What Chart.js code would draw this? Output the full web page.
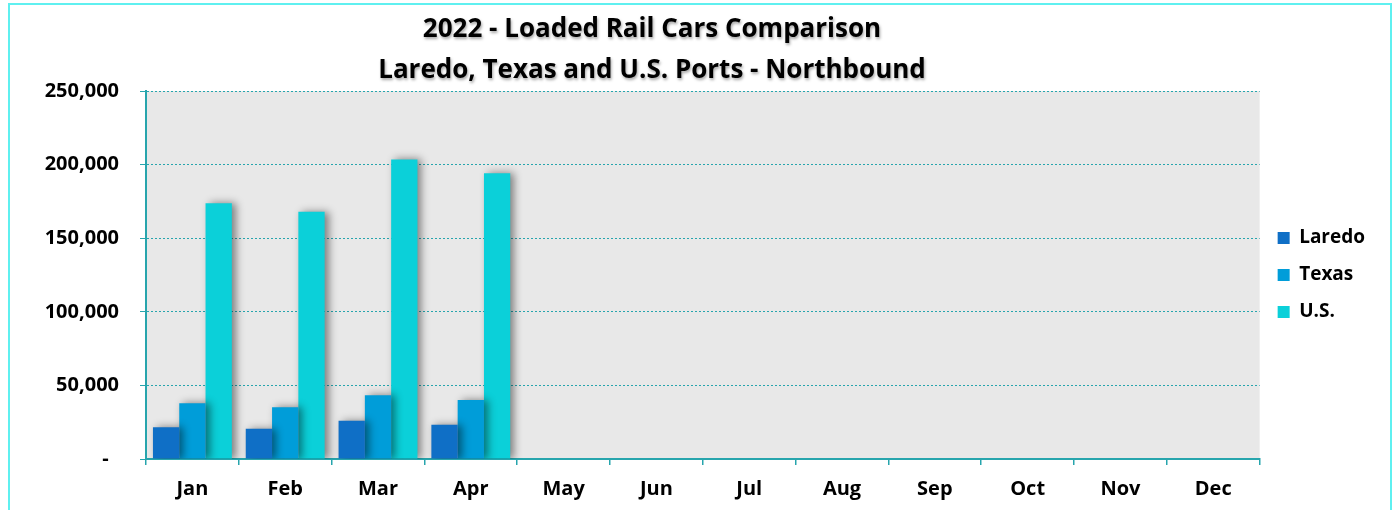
<!DOCTYPE html>
<html>
<head>
<meta charset="utf-8">
<script src="https://cdn.jsdelivr.net/npm/chart.js@4"></script>
<style>
  html, body { margin: 0; padding: 0; background: #fff; }
  #wrap { position: relative; width: 1395px; height: 510px; }
</style>
</head>
<body>
<div id="wrap"><canvas id="grafico" width="1395" height="510"></canvas></div>
<script>
const months = ['Jan', 'Feb', 'Mar', 'Apr', 'May', 'Jun', 'Jul', 'Aug', 'Sep', 'Oct', 'Nov', 'Dec'];
const laredo = [21500, 20600, 26000, 23300, null, null, null, null, null, null, null, null];
const texas = [37800, 35100, 43300, 40100, null, null, null, null, null, null, null, null];
const us = [173700, 168000, 203500, 194100, null, null, null, null, null, null, null, null];
const titleLines = ['2022 - Loaded Rail Cars Comparison', 'Laredo, Texas and U.S. Ports - Northbound'];

const teal = '#27a5ad';
const font = '"Open Sans", "Noto Sans", sans-serif';

const decor = {
  id: 'decor',
  beforeDraw(chart) {
    const ctx = chart.ctx, a = chart.chartArea;
    ctx.save();
    ctx.fillStyle = '#e8e8e8';
    ctx.fillRect(a.left, a.top, a.right - a.left, a.bottom - a.top);
    ctx.strokeStyle = '#5ff0f0';
    ctx.lineWidth = 2;
    ctx.strokeRect(9, 4, 1382, 530);
    ctx.restore();
  },
  beforeDatasetsDraw(chart) {
    const ctx = chart.ctx;
    ctx.save();
    ctx.shadowColor = 'rgba(0,0,0,0.45)';
    ctx.shadowBlur = 8;
    ctx.shadowOffsetX = 4;
    ctx.shadowOffsetY = 0;
  },
  afterDatasetsDraw(chart) {
    chart.ctx.restore();
  },
  afterDraw(chart) {
    const ctx = chart.ctx;
    ctx.save();
    ctx.font = 'bold 26px ' + font;
    ctx.textAlign = 'center';
    ctx.textBaseline = 'middle';
    ctx.fillStyle = '#000';
    ctx.shadowColor = 'rgba(0,0,0,0.35)';
    ctx.shadowBlur = 3;
    ctx.shadowOffsetX = 1;
    ctx.shadowOffsetY = 2;
    ctx.fillText(titleLines[0], 652, 30);
    ctx.fillText(titleLines[1], 652, 71);
    ctx.restore();
  }
};

new Chart(document.getElementById('grafico'), {
  type: 'bar',
  data: {
    labels: months,
    datasets: [
      { label: 'Laredo', data: laredo, backgroundColor: '#0f6fc6' },
      { label: 'Texas', data: texas, backgroundColor: '#009dd9' },
      { label: 'U.S.', data: us, backgroundColor: '#0bd0d9' }
    ]
  },
  options: {
    responsive: false,
    animation: false,
    layout: { padding: { top: 91, right: 20, left: 0, bottom: 0 } },
    datasets: { bar: { categoryPercentage: 0.85, barPercentage: 1.0 } },
    plugins: {
      title: { display: false },
      tooltip: { enabled: false },
      legend: {
        position: 'right',
        fullSize: false,
        labels: {
          boxWidth: 12,
          boxHeight: 12,
          padding: 18,
          color: '#000',
          font: { family: font, size: 19, weight: 'bold' }
        }
      }
    },
    scales: {
      x: {
        offset: true,
        grid: { offset: true, drawOnChartArea: false, color: teal, tickLength: 6, lineWidth: 1.5 },
        border: { color: teal, width: 2 },
        ticks: { color: '#000', padding: 12, font: { family: font, size: 20, weight: 'bold' } },
        afterFit(s) { s.height = 51; }
      },
      y: {
        min: 0,
        max: 250000,
        grid: { color: teal, tickLength: 6, tickBorderDash: [], tickColor: teal },
        border: { color: teal, width: 2, dash: [2, 2] },
        ticks: {
          stepSize: 50000,
          color: '#000',
          padding: 21,
          font: { family: font, size: 20, weight: 'bold' },
          callback: v => v === 0 ? '-  ' : v.toLocaleString('en-US')
        },
        afterFit(s) { s.width = 146; }
      }
    }
  },
  plugins: [decor]
});
</script>
</body>
</html>
